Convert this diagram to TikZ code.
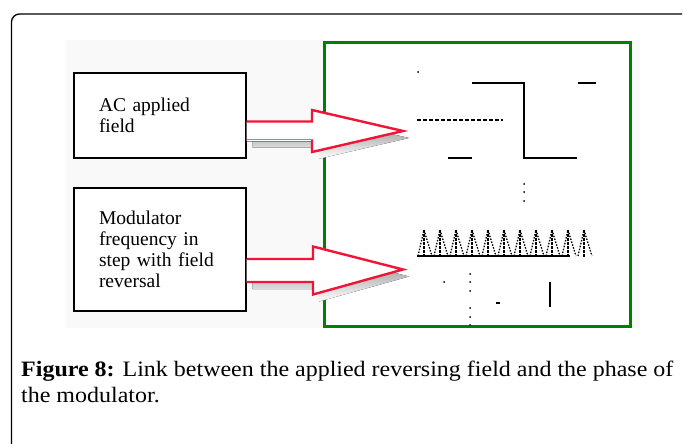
\documentclass[tikz,border=0pt]{standalone}
\usepackage{fontspec}
\setmainfont{Liberation Serif}
\newfontfamily\captionfont[FakeStretch=1.09]{Liberation Serif}
\usetikzlibrary{calc}
\definecolor{arrowred}{RGB}{240,20,55}
\definecolor{panelgreen}{RGB}{0,128,0}
\definecolor{figbg}{RGB}{249,249,249}
\definecolor{shade}{RGB}{130,130,130}

% block arrow: #1 start, #2 tip, #3 shaft half-height, #4 head half-height, #5 head length
\newcommand{\blockarrow}[5]{%
  \fill[shade] let \p1=(#1), \p2=(#2) in
    ([shift={(6pt,-7pt)}]\x1,\y1+#3) -- ([shift={(6pt,-7pt)}]\x2-#5,\y1+#3) --
    ([shift={(6pt,-7pt)}]\x2-#5,\y1+#4) -- ([shift={(6pt,-7pt)}]\x2,\y2) --
    ([shift={(6pt,-7pt)}]\x2-#5,\y1-#4) -- ([shift={(6pt,-7pt)}]\x2-#5,\y1-#3) --
    ([shift={(6pt,-7pt)}]\x1,\y1-#3) -- cycle;
  \fill[white] let \p1=(#1), \p2=(#2) in
    (\x1,\y1+#3) -- (\x2-#5,\y1+#3) -- (\x2-#5,\y1+#4) -- (\x2,\y2) --
    (\x2-#5,\y1-#4) -- (\x2-#5,\y1-#3) -- (\x1,\y1-#3) -- cycle;
  \draw[arrowline] let \p1=(#1), \p2=(#2) in
    (\x1,\y1+#3) -- (\x2-#5,\y1+#3) -- (\x2-#5,\y1+#4) -- (\x2,\y2) --
    (\x2-#5,\y1-#4) -- (\x2-#5,\y1-#3) -- (\x1,\y1-#3);
}

\begin{document}
\begin{tikzpicture}[x=1pt,y=-1pt,
  box/.style={draw=black, line width=1.2pt, fill=white, minimum width=172pt,
    inner sep=0pt, align=left, text width=122pt,
    font=\fontsize{19.5}{21}\selectfont},
  panel/.style={draw=panelgreen, line width=3pt, fill=white,
    minimum width=306pt, minimum height=283pt, inner sep=0pt},
  arrowline/.style={draw=arrowred, line width=2.4pt, line join=miter},
  wave/.style={line width=1.5pt, black},
  caption/.style={anchor=base west, inner sep=0pt,
    font=\captionfont\fontsize{22}{26}\selectfont}
]
\useasboundingbox (0,0) rectangle (683,444);

% page frame
\draw[line width=1.3pt, rounded corners=8pt] (682,14) -- (11.5,14) -- (11.5,444);

% figure background
\fill[figbg] (66,40) rectangle (640,328);

% output panel
\node[panel] (panel) at (477,184.5) {};

% input boxes
\node[box, minimum height=85pt] (ac) at (160,115.5) {AC applied\\field};
\node[box, minimum height=123pt] (mod) at (160,249.5)
  {Modulator\\frequency in\\step with field\\reversal};

% arrow anchors
\coordinate (s1) at (ac.east |- 0,131);
\coordinate (t1) at (403,131);
\coordinate (s2) at (mod.east |- 0,270.5);
\coordinate (t2) at (403,269.5);

\blockarrow{s1}{t1}{9.5pt}{21pt}{91pt}
\blockarrow{s2}{t2}{11.5pt}{24pt}{90pt}
% inner white stripe on the lower shaft edge of the upper arrow
\draw[white, line width=0.7pt] (s1) ++(0,9.5) -- ++(64,0);

% upper trace: square wave with dashed reference level
\fill (418,72) circle (1);
\draw[wave] (448,158) -- (472,158);
\draw[wave] (472,83) -- (524,83) -- (524,158) -- (577,158);
\draw[wave] (578,83) -- (596,83);
\draw[line width=1.5pt, dash pattern=on 4pt off 2pt] (417,120) -- (503,120);
\foreach \y in {184,192,201} \fill (524,\y) circle (1);

% lower trace: modulator sawtooth
\draw[line width=1.8pt] (417,256) -- (570,256);
\foreach \i in {0,...,10} {
  \pgfmathsetmacro\xa{418+16*\i}
  \draw[line width=1.3pt, dash pattern=on 1.5pt off 1.5pt] (\xa,256) -- (\xa+6,230);
  \draw[line width=1.3pt, dash pattern=on 3pt off 1pt] (\xa+6,230) -- (\xa+6,258);
  \draw[line width=1.3pt, dash pattern=on 1.5pt off 1.5pt] (\xa+6,230) -- (\xa+14,256);
}
\fill (444,282) circle (1);
\foreach \y in {274,282,291,308,317,325} \fill (470,\y) circle (1);
\draw[line width=1.5pt] (496,303) -- (500,303);
\draw[line width=1.5pt] (550,282) -- (550,307);

% caption
\node[caption] (cap1) at (21,376)
  {\textbf{Figure 8:} Link between the applied reversing field and the phase of};
\node[caption] (cap2) at (21,402) {the modulator.};
\end{tikzpicture}
\end{document}
